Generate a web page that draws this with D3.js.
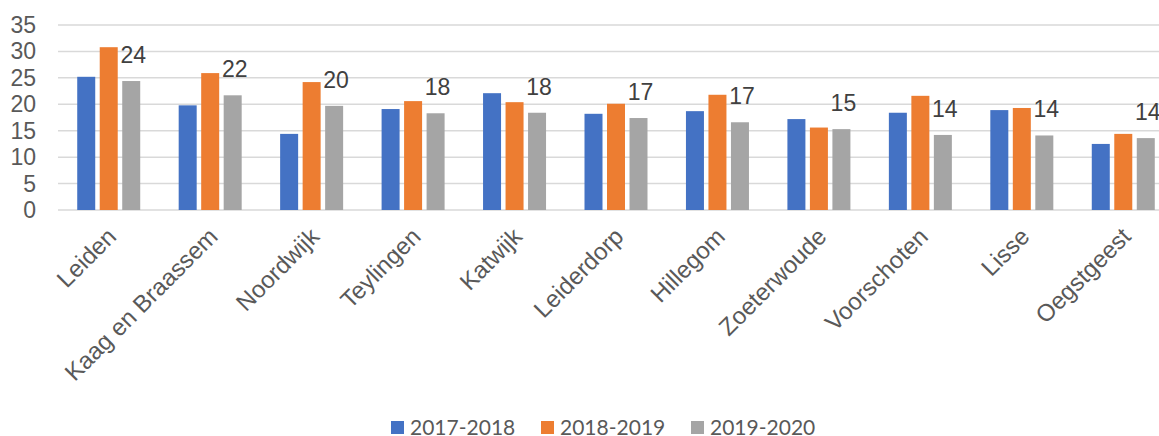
<!DOCTYPE html>
<html>
<head>
<meta charset="utf-8">
<script src="https://cdn.jsdelivr.net/npm/d3@7"></script>
<style>
  html, body { margin: 0; padding: 0; background: #fff; }
  svg { display: block; }
</style>
</head>
<body>
<svg id="chart" width="1159" height="436"></svg>
<script>
const categories = ["Leiden", "Kaag en Braassem", "Noordwijk", "Teylingen", "Katwijk", "Leiderdorp", "Hillegom", "Zoeterwoude", "Voorschoten", "Lisse", "Oegstgeest"];
const seriesNames = ["2017-2018", "2018-2019", "2019-2020"];
const values2017 = [25.2, 19.8, 14.4, 19.1, 22.1, 18.2, 18.7, 17.2, 18.4, 18.9, 12.5];
const values2018 = [30.8, 25.9, 24.2, 20.6, 20.4, 20.1, 21.8, 15.6, 21.6, 19.3, 14.4];
const values2019 = [24.4, 21.7, 19.7, 18.3, 18.4, 17.4, 16.6, 15.3, 14.2, 14.1, 13.6];
const dataLabels = ["24", "22", "20", "18", "18", "17", "17", "15", "14", "14", "14"];
const yTicks = [0, 5, 10, 15, 20, 25, 30, 35];
const colors = ["#4472C4", "#ED7D31", "#A5A5A5"];

const seriesValues = [values2017, values2018, values2019];
const svg = d3.select("#chart");

const y = d3.scaleLinear().domain([0, 35]).range([210, 25]);
const x0 = d3.scaleBand().domain(categories).range([58, 1174]).padding(0);
const groupW = 63;
const x1 = d3.scaleBand().domain(seriesNames).range([0, groupW]).paddingInner(0.2);

// gridlines
svg.append("g").selectAll("line").data(yTicks).join("line")
  .attr("x1", 58).attr("x2", 1159)
  .attr("y1", d => y(d)).attr("y2", d => y(d))
  .attr("stroke", "#d9d9d9").attr("stroke-width", 1.5);

// y tick labels
svg.append("g").selectAll("text").data(yTicks).join("text")
  .attr("x", 36).attr("y", d => y(d))
  .attr("text-anchor", "end").attr("dominant-baseline", "central")
  .attr("font-family", "Liberation Sans, Arial, sans-serif")
  .attr("font-size", 23).attr("fill", "#595959")
  .text(d => d);

// bars
const groups = svg.append("g").selectAll("g").data(categories).join("g")
  .attr("transform", d => `translate(${x0(d) + x0.bandwidth() / 2 - groupW / 2},0)`);

groups.selectAll("rect")
  .data((c, i) => seriesNames.map((s, j) => ({ s, j, v: seriesValues[j][i] })))
  .join("rect")
  .attr("x", d => x1(d.s))
  .attr("width", x1.bandwidth())
  .attr("y", d => y(d.v))
  .attr("height", d => y(0) - y(d.v))
  .attr("fill", d => colors[d.j]);

// data labels above gray bars
svg.append("g").selectAll("text").data(categories).join("text")
  .attr("x", (c) => x0(c) + x0.bandwidth() / 2 - groupW / 2 + x1(seriesNames[2]) + x1.bandwidth() / 2 + 2)
  .attr("y", (c, i) => y(values2019[i]) - 18)
  .attr("text-anchor", "middle")
  .attr("font-family", "Liberation Sans, Arial, sans-serif")
  .attr("font-size", 23).attr("fill", "#404040")
  .text((c, i) => dataLabels[i]);

// category labels
svg.append("g").selectAll("text").data(categories).join("text")
  .attr("transform", c => `translate(${x0(c) + x0.bandwidth() / 2 + 9},${238}) rotate(-45)`)
  .attr("text-anchor", "end")
  .attr("font-family", "Liberation Sans, Arial, sans-serif")
  .attr("font-size", 24).attr("fill", "#595959")
  .text(c => c);

// legend
const legendX = [391, 541, 691];
const leg = svg.append("g").selectAll("g").data(seriesNames).join("g")
  .attr("transform", (d, i) => `translate(${legendX[i]},0)`);
leg.append("rect").attr("x", 0).attr("y", 421).attr("width", 13).attr("height", 13)
  .attr("fill", (d, i) => colors[i]);
leg.append("text").attr("x", 19).attr("y", 435)
  .attr("font-family", "Lato, Open Sans, sans-serif")
  .attr("font-size", 21).attr("fill", "#595959")
  .text(d => d);
</script>
</body>
</html>
